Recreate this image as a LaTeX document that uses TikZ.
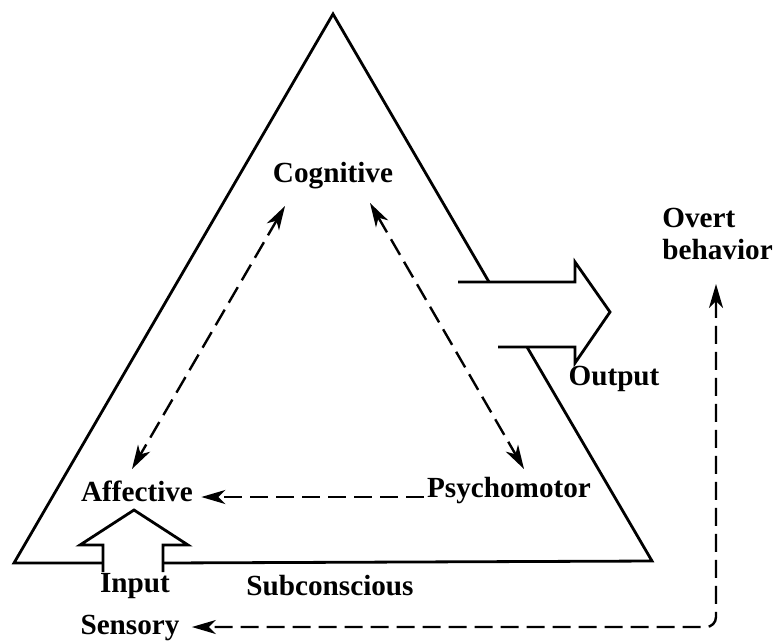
\documentclass[tikz,border=0pt]{standalone}
\usepackage{fontspec}
\setmainfont{Liberation Serif}
\usetikzlibrary{arrows.meta}
\begin{document}
\begin{tikzpicture}[x=0.5pt,y=-0.5pt,
  lbl/.style={font=\fontsize{14.6}{16}\selectfont\bfseries, inner sep=0pt},
  solidline/.style={line width=1.4pt, line join=miter},
  dashline/.style={line width=1.2pt, dash pattern=on 9pt off 4pt},
  tip/.style={-{Stealth[length=12pt,width=7pt,inset=3.5pt]}},
  dtip/.style={{Stealth[length=12pt,width=7pt,inset=3.5pt]}-{Stealth[length=12pt,width=7pt,inset=3.5pt]}}]
\useasboundingbox (0,0) rectangle (774,643);
% labels
\node[lbl] (cog) at (333,176) {Cognitive};
\node[lbl] (aff) at (137,491) {Affective};
\node[lbl] (psy) at (509,491) {Psychomotor};
\node[lbl] (out) at (614,379) {Output};
\node[lbl,align=left,anchor=north west] (ovt) at (662,208) {Overt\\behavior};
\node[lbl] (inp) at (135,586) {Input};
\node[lbl] (sub) at (330,586) {Subconscious};
\node[lbl] (sen) at (130,628) {Sensory};
% triangle with openings for the input and output arrows
\coordinate (apex) at (333,14);
\coordinate (bl) at (14,563);
\coordinate (br) at (652,561);
\draw[solidline] (103,563) -- (bl) -- (apex) -- (489,282);
\draw[solidline] (527,347) -- (br) -- (163,563);
% output arrow
\draw[solidline] (458,282) -- (575,282) -- (575,262) -- (610,312) -- (575,363) -- (575,347) -- (498,347);
% input arrow
\draw[solidline] (103,572) -- (103,545) -- (80,545) -- (134,510) -- (188,545) -- (163,545) -- (163,572);
% internal dashed arrows
\coordinate (cogL) at (285,206);
\coordinate (affT) at (132,469);
\coordinate (cogR) at (370,203);
\coordinate (psyT) at (524,469);
\draw[dashline,dtip] (cogL) -- (affT);
\draw[dashline,dtip] (cogR) -- (psyT);
\coordinate (psyW) at ([xshift=-1.5pt]psy.west |- 0,497);
\coordinate (affE) at ([xshift=4pt]aff.east |- 0,497);
\draw[dashline,tip] (psyW) -- (affE);
% feedback loop from overt behavior back to sensory input
\coordinate (ovtT) at (716,284);
\coordinate (corner) at (716,627);
\coordinate (senE) at ([xshift=6pt]sen.east |- 0,627);
\draw[dashline,dtip,rounded corners=5pt] (ovtT) -- (corner) -- (senE);
\end{tikzpicture}
\end{document}
